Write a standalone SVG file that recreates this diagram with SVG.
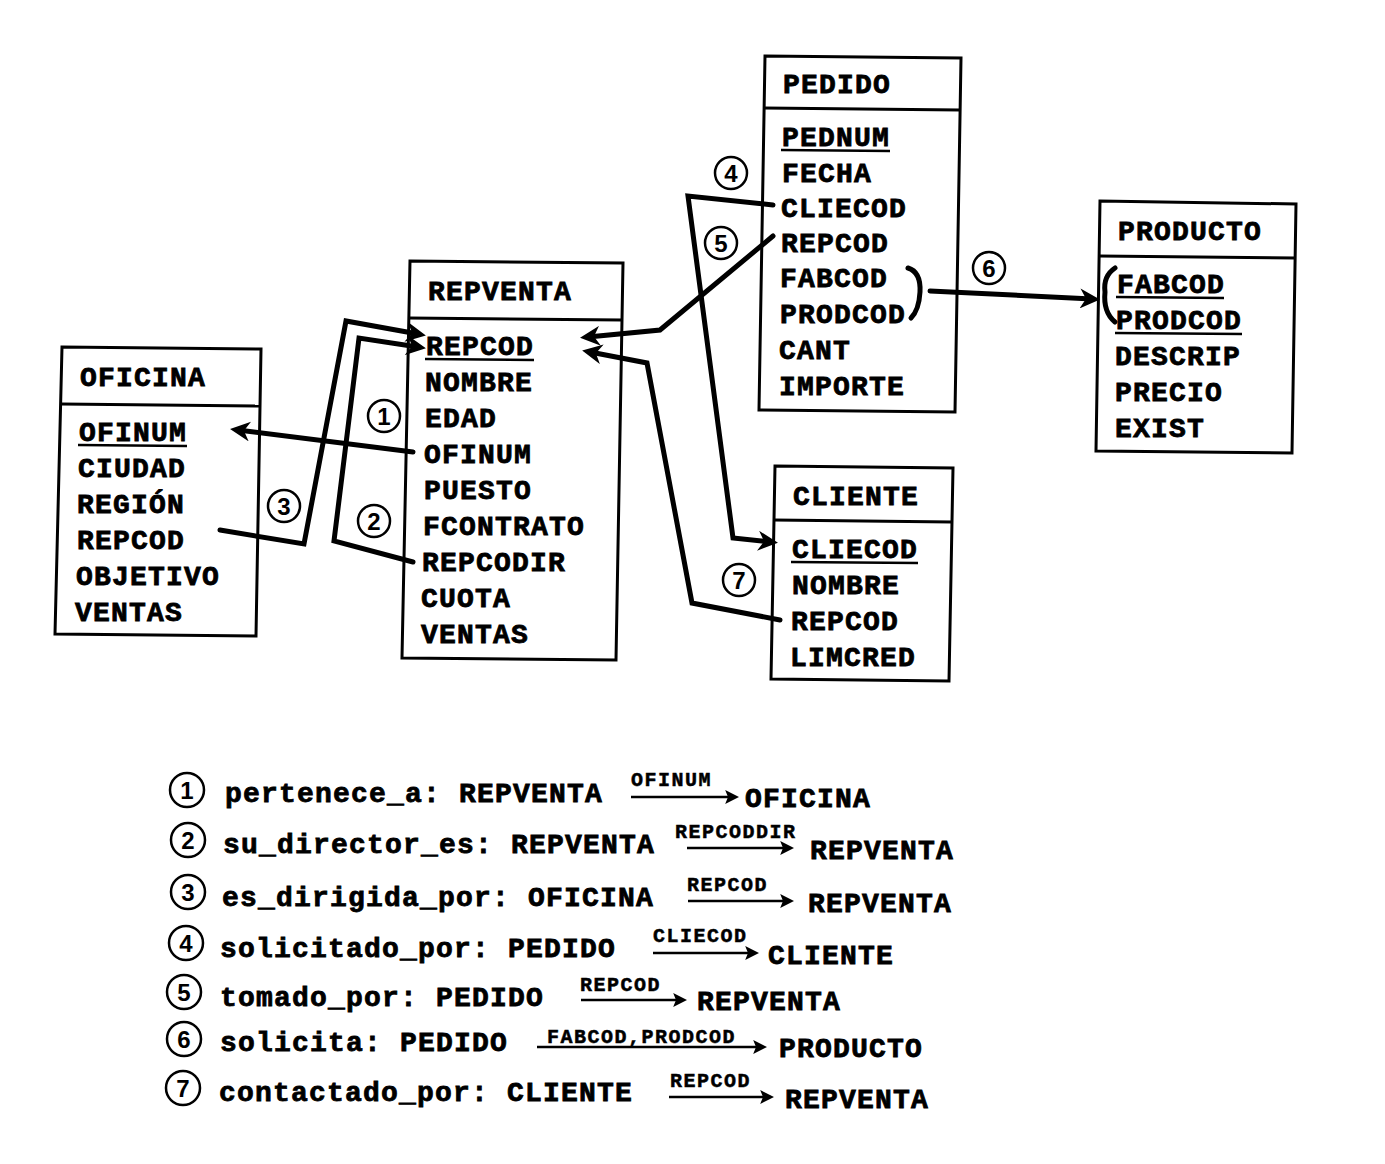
<svg xmlns="http://www.w3.org/2000/svg" width="1385" height="1164" viewBox="0 0 1385 1164">
  <style>
    .box { fill: none; stroke: #000; stroke-width: 3; stroke-linejoin: miter; }
    .t { font-family: "Liberation Mono", "Courier New", monospace; font-weight: bold; font-size: 28px; letter-spacing: 1.2px; fill: #000; stroke: #000; stroke-width: 0.8; }
    .s { font-family: "Liberation Mono", "Courier New", monospace; font-weight: bold; font-size: 20px; letter-spacing: 1.5px; fill: #000; stroke: #000; stroke-width: 0.5; }
    .ul { stroke: #000; stroke-width: 2.5; }
    .link { fill: none; stroke: #000; stroke-width: 5; stroke-linejoin: miter; stroke-linecap: round; }
    .rel { fill: none; stroke: #000; stroke-width: 2.5; }
    .num circle { fill: none; stroke: #000; stroke-width: 2.5; }
    .num text { font-family: "Liberation Sans", Arial, sans-serif; font-weight: bold; font-size: 24px; text-anchor: middle; fill: #000; }
  </style>
  <defs>
    <marker id="head" viewBox="0 0 10 10" refX="6" refY="5" markerWidth="20" markerHeight="20" markerUnits="userSpaceOnUse" orient="auto">
      <path d="M0,0 L10,5 L0,10 L3,5 z" fill="#000"/>
    </marker>
    <marker id="small" viewBox="0 0 10 10" refX="7" refY="5" markerWidth="14" markerHeight="14" markerUnits="userSpaceOnUse" orient="auto">
      <path d="M0,0 L10,5 L0,10 L2,5 z" fill="#000"/>
    </marker>
  </defs>
  <rect width="1385" height="1164" fill="#fff"/>

  <!-- tables -->
  <g id="oficina">
    <polygon class="box" points="62,347 261,349 256,636 55,634"/>
    <line class="box" x1="61" y1="404" x2="259" y2="406"/>
    <text class="t" x="80" y="386">OFICINA</text>
    <text class="t" x="79" y="441">OFINUM</text>
    <line class="ul" x1="78" y1="445" x2="187" y2="446"/>
    <text class="t" x="78" y="477">CIUDAD</text>
    <text class="t" x="77" y="513">REGIÓN</text>
    <text class="t" x="77" y="549">REPCOD</text>
    <text class="t" x="76" y="585">OBJETIVO</text>
    <text class="t" x="75" y="621">VENTAS</text>
  </g>

  <g id="repventa">
    <polygon class="box" points="410,261 623,263 616,660 402,658"/>
    <line class="box" x1="409" y1="318" x2="622" y2="320"/>
    <text class="t" x="428" y="300">REPVENTA</text>
    <text class="t" x="426" y="355">REPCOD</text>
    <line class="ul" x1="425" y1="359" x2="534" y2="360"/>
    <text class="t" x="425" y="391">NOMBRE</text>
    <text class="t" x="425" y="427">EDAD</text>
    <text class="t" x="424" y="463">OFINUM</text>
    <text class="t" x="424" y="499">PUESTO</text>
    <text class="t" x="423" y="535">FCONTRATO</text>
    <text class="t" x="422" y="571">REPCODIR</text>
    <text class="t" x="421" y="607">CUOTA</text>
    <text class="t" x="421" y="643">VENTAS</text>
  </g>

  <g id="pedido">
    <polygon class="box" points="765,56 961,58 955,412 759,410"/>
    <line class="box" x1="764" y1="108" x2="960" y2="110"/>
    <text class="t" x="783" y="93">PEDIDO</text>
    <text class="t" x="782" y="146">PEDNUM</text>
    <line class="ul" x1="781" y1="150" x2="890" y2="151"/>
    <text class="t" x="782" y="182">FECHA</text>
    <text class="t" x="781" y="217">CLIECOD</text>
    <text class="t" x="781" y="252">REPCOD</text>
    <text class="t" x="780" y="287">FABCOD</text>
    <text class="t" x="780" y="323">PRODCOD</text>
    <text class="t" x="779" y="359">CANT</text>
    <text class="t" x="779" y="395">IMPORTE</text>
    <path class="link" d="M908,268 Q921,272 920,292 Q919,310 911,318" stroke-width="4"/>
  </g>

  <g id="cliente">
    <polygon class="box" points="775,466 953,468 949,681 771,679"/>
    <line class="box" x1="774" y1="520" x2="952" y2="522"/>
    <text class="t" x="793" y="505">CLIENTE</text>
    <text class="t" x="792" y="558">CLIECOD</text>
    <line class="ul" x1="791" y1="562" x2="918" y2="563"/>
    <text class="t" x="792" y="594">NOMBRE</text>
    <text class="t" x="791" y="630">REPCOD</text>
    <text class="t" x="790" y="666">LIMCRED</text>
  </g>

  <g id="producto">
    <polygon class="box" points="1100,201 1296,204 1292,453 1096,451"/>
    <line class="box" x1="1099" y1="256" x2="1295" y2="258"/>
    <text class="t" x="1118" y="240">PRODUCTO</text>
    <text class="t" x="1117" y="293">FABCOD</text>
    <line class="ul" x1="1116" y1="297" x2="1224" y2="298"/>
    <text class="t" x="1116" y="329">PRODCOD</text>
    <line class="ul" x1="1115" y1="333" x2="1242" y2="334"/>
    <text class="t" x="1115" y="365">DESCRIP</text>
    <text class="t" x="1115" y="401">PRECIO</text>
    <text class="t" x="1115" y="437">EXIST</text>
    <path class="link" d="M1115,268 Q1103,276 1105,292 Q1103,312 1115,322" stroke-width="4"/>
  </g>

  <!-- relationship connectors -->
  <g id="connectors">
    <path class="link" d="M413,452 L238,430" marker-end="url(#head)"/>
    <path class="link" d="M220,530 L304,544 L346,321 L418,334" marker-end="url(#head)"/>
    <path class="link" d="M413,562 L334,541 L359,338 L418,347" marker-end="url(#head)"/>
    <path class="link" d="M773,236 L660,330 L588,337" marker-end="url(#head)"/>
    <path class="link" d="M780,620 L692,603 L647,363 L590,352" marker-end="url(#head)"/>
    <path class="link" d="M773,205 L688,196 L733,538 L770,542" marker-end="url(#head)"/>
    <path class="link" d="M930,291 L1092,299" marker-end="url(#head)"/>
  </g>

  <!-- relationship numbers on the diagram -->
  <g class="num">
    <circle cx="384" cy="416" r="16"/><text x="384" y="425">1</text>
    <circle cx="374" cy="521" r="16"/><text x="374" y="530">2</text>
    <circle cx="284" cy="506" r="16"/><text x="284" y="515">3</text>
    <circle cx="731" cy="173" r="16"/><text x="731" y="182">4</text>
    <circle cx="721" cy="243" r="16"/><text x="721" y="252">5</text>
    <circle cx="989" cy="268" r="16"/><text x="989" y="277">6</text>
    <circle cx="739" cy="580" r="16"/><text x="739" y="589">7</text>
  </g>

  <!-- legend -->
  <g id="legend">
    <g class="num">
      <circle cx="187" cy="790" r="17"/><text x="187" y="799">1</text>
      <circle cx="188" cy="840" r="17"/><text x="188" y="849">2</text>
      <circle cx="188" cy="892" r="17"/><text x="188" y="901">3</text>
      <circle cx="186" cy="943" r="17"/><text x="186" y="952">4</text>
      <circle cx="184" cy="992" r="17"/><text x="184" y="1001">5</text>
      <circle cx="184" cy="1039" r="17"/><text x="184" y="1048">6</text>
      <circle cx="183" cy="1088" r="17"/><text x="183" y="1097">7</text>
    </g>

    <text class="t" x="225" y="802">pertenece_a: REPVENTA</text>
    <text class="s" x="631" y="786">OFINUM</text>
    <path class="rel" d="M631,797 L735,797" marker-end="url(#small)"/>
    <text class="t" x="745" y="807">OFICINA</text>

    <text class="t" x="223" y="853">su_director_es: REPVENTA</text>
    <text class="s" x="675" y="838">REPCODDIR</text>
    <path class="rel" d="M687,848 L790,848" marker-end="url(#small)"/>
    <text class="t" x="810" y="859">REPVENTA</text>

    <text class="t" x="222" y="906">es_dirigida_por: OFICINA</text>
    <text class="s" x="687" y="891">REPCOD</text>
    <path class="rel" d="M688,901 L790,901" marker-end="url(#small)"/>
    <text class="t" x="808" y="912">REPVENTA</text>

    <text class="t" x="220" y="957">solicitado_por: PEDIDO</text>
    <text class="s" x="653" y="942">CLIECOD</text>
    <path class="rel" d="M653,953 L755,953" marker-end="url(#small)"/>
    <text class="t" x="768" y="964">CLIENTE</text>

    <text class="t" x="220" y="1006">tomado_por: PEDIDO</text>
    <text class="s" x="580" y="991">REPCOD</text>
    <path class="rel" d="M581,1000 L683,1000" marker-end="url(#small)"/>
    <text class="t" x="697" y="1010">REPVENTA</text>

    <text class="t" x="220" y="1051">solicita: PEDIDO</text>
    <text class="s" x="547" y="1043">FABCOD,PRODCOD</text>
    <path class="rel" d="M537,1047 L763,1047" marker-end="url(#small)"/>
    <text class="t" x="779" y="1057">PRODUCTO</text>

    <text class="t" x="219" y="1101">contactado_por: CLIENTE</text>
    <text class="s" x="670" y="1087">REPCOD</text>
    <path class="rel" d="M669,1097 L770,1097" marker-end="url(#small)"/>
    <text class="t" x="785" y="1108">REPVENTA</text>
  </g>
</svg>
